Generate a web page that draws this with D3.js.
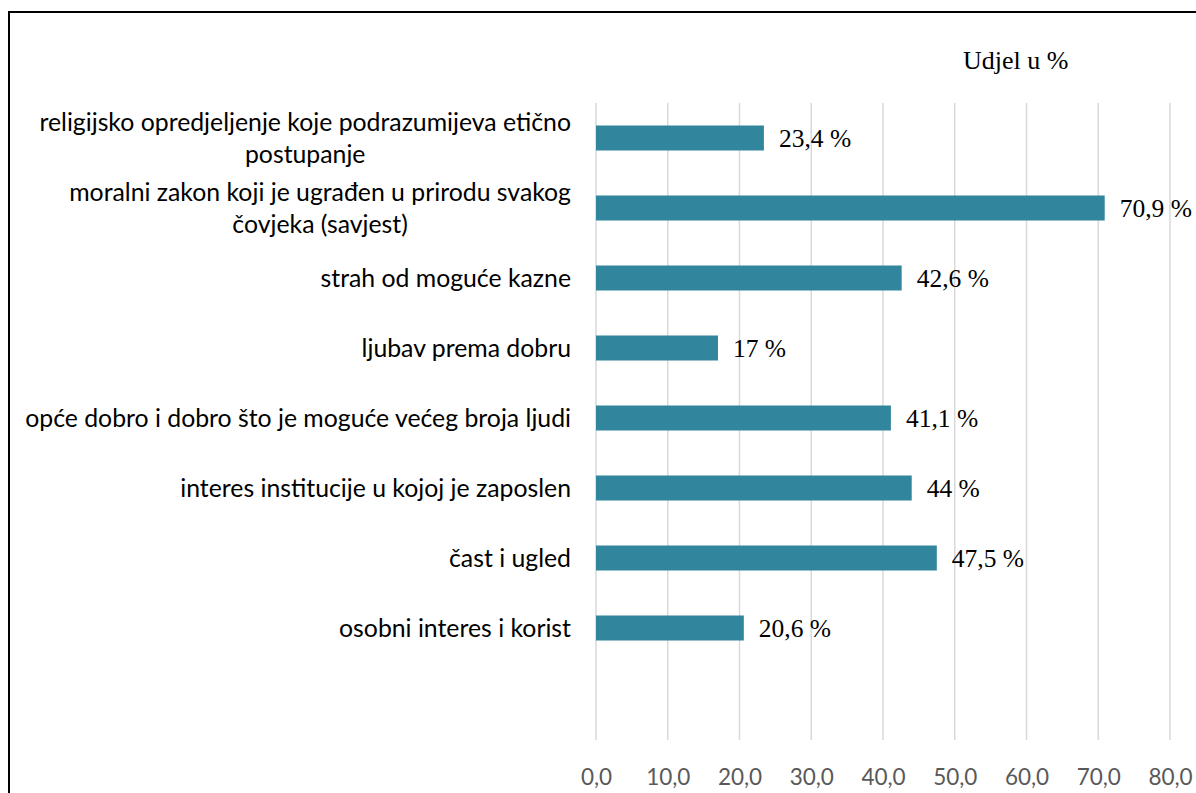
<!DOCTYPE html>
<html>
<head>
<meta charset="utf-8">
<script src="https://cdn.jsdelivr.net/npm/d3@7"></script>
<style>
  body { margin: 0; background: #fff; }
  svg { display: block; }
</style>
</head>
<body>
<div id="root"></div>
<script>
// categories top to bottom, each entry = lines of the wrapped label
var categories = [
  ["religijsko opredjeljenje koje podrazumijeva etično", "postupanje"],
  ["moralni zakon koji je ugrađen u prirodu svakog", "čovjeka (savjest)"],
  ["strah od moguće kazne"],
  ["ljubav prema dobru"],
  ["opće dobro i dobro što je moguće većeg broja ljudi"],
  ["interes institucije u kojoj je zaposlen"],
  ["čast i ugled"],
  ["osobni interes i korist"]
];
var values = [23.4, 70.9, 42.6, 17, 41.1, 44, 47.5, 20.6];
var valueLabels = ["23,4 %", "70,9 %", "42,6 %", "17 %", "41,1 %", "44 %", "47,5 %", "20,6 %"];
var ticks = [0, 10, 20, 30, 40, 50, 60, 70, 80];
var title = "Udjel u %";

var W = 1196, H = 793;
var plotLeft = 596, plotRight = 1170, plotTop = 103, plotBottom = 740;

var svg = d3.select("#root")
  .append("svg")
  .attr("width", W)
  .attr("height", H);

// chart frame (cut off at right and bottom)
svg.append("rect")
  .attr("x", 9)
  .attr("y", 12)
  .attr("width", 1400)
  .attr("height", 1000)
  .attr("fill", "none")
  .attr("stroke", "#000")
  .attr("stroke-width", 2);

var x = d3.scaleLinear().domain([0, 80]).range([plotLeft, plotRight]);
var y = d3.scaleBand()
  .domain(d3.range(categories.length))
  .range([plotTop, plotTop + 70 * categories.length])
  .paddingInner(45 / 70)
  .paddingOuter(45 / 140);

// gridlines
svg.append("g")
  .selectAll("line")
  .data(ticks)
  .enter()
  .append("line")
  .attr("x1", function (d) { return x(d); })
  .attr("x2", function (d) { return x(d); })
  .attr("y1", plotTop)
  .attr("y2", plotBottom)
  .attr("stroke", "#d9d9d9")
  .attr("stroke-width", 1.5);

// x axis labels
var xAxis = d3.axisBottom(x)
  .tickValues(ticks)
  .tickSize(0)
  .tickPadding(0)
  .tickFormat(function (d) { return d3.format(".1f")(d).replace(".", ","); });

var gx = svg.append("g")
  .attr("transform", "translate(0," + (plotBottom + 37) + ")")
  .call(xAxis);
gx.select(".domain").remove();
gx.selectAll("text")
  .attr("fill", "#595959")
  .attr("font-family", "Lato, 'Open Sans', sans-serif")
  .attr("font-size", 22.5)
  .attr("dy", "0.35em");

// bars
svg.append("g")
  .selectAll("rect")
  .data(values)
  .enter()
  .append("rect")
  .attr("x", x(0))
  .attr("y", function (d, i) { return y(i); })
  .attr("width", function (d) { return x(d) - x(0); })
  .attr("height", y.bandwidth())
  .attr("fill", "#31859c");

// value labels
svg.append("g")
  .selectAll("text")
  .data(values)
  .enter()
  .append("text")
  .attr("x", function (d) { return x(d) + 15; })
  .attr("y", function (d, i) { return y(i) + y.bandwidth() / 2; })
  .attr("dy", "0.35em")
  .attr("font-family", "'Liberation Serif', 'Times New Roman', serif")
  .attr("font-size", 25.5)
  .attr("fill", "#000")
  .text(function (d, i) { return valueLabels[i]; });

// category labels (wrapped ones are centred on their block)
var labelRight = 571, lineH = 32;
var cat = svg.append("g")
  .selectAll("g")
  .data(categories)
  .enter()
  .append("g");

cat.each(function (lines, i) {
  var g = d3.select(this);
  var cy = y(i) + y.bandwidth() / 2;
  var n = lines.length;
  var t = g.append("text")
    .attr("font-family", "Lato, 'Open Sans', sans-serif")
    .attr("font-size", 24.8)
    .attr("fill", "#000");
  lines.forEach(function (line, k) {
    t.append("tspan")
      .attr("y", cy + (k - (n - 1) / 2) * lineH)
      .attr("dy", "0.35em")
      .text(line);
  });
  if (n === 1) {
    t.attr("text-anchor", "end");
    t.selectAll("tspan").attr("x", labelRight);
  } else {
    // measure widest line to centre the block against the right edge
    var w = 0;
    t.selectAll("tspan").each(function () {
      w = Math.max(w, this.getComputedTextLength());
    });
    t.attr("text-anchor", "middle");
    t.selectAll("tspan").attr("x", labelRight - w / 2);
  }
});

// title
svg.append("text")
  .attr("x", 963)
  .attr("y", 60)
  .attr("dy", "0.35em")
  .attr("font-family", "'Liberation Serif', 'Times New Roman', serif")
  .attr("font-size", 26)
  .attr("fill", "#000")
  .text(title);
</script>
</body>
</html>
